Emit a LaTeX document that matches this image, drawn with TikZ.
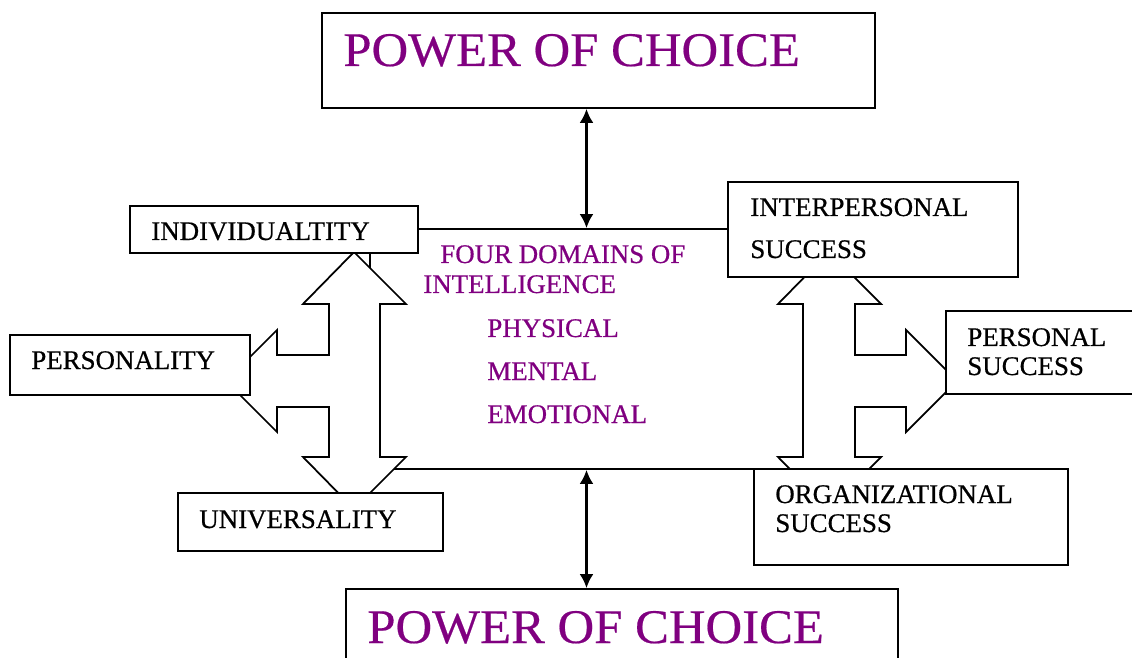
\documentclass[tikz,border=0pt]{standalone}
\usepackage{fontspec}
\setmainfont{Liberation Serif}
\newfontfamily\heavyfont{Liberation Serif}[FakeBold=0.6]
\newfontfamily\titlefont{Liberation Serif}[FakeStretch=1.05,FakeBold=0.4]
\usetikzlibrary{fit,arrows.meta}
\definecolor{choice}{RGB}{128,0,128}
\tikzset{
  box/.style={draw,line width=1pt,fill=white,inner sep=0pt},
  blockarrow/.style={draw,line width=1pt,fill=white,line join=miter},
  lbl/.style={anchor=base west,inner sep=0pt,font=\heavyfont\fontsize{15.3}{18}\selectfont},
  dom/.style={lbl,text=choice},
  big/.style={anchor=base west,inner sep=0pt,text=choice,font=\titlefont\fontsize{27.5}{30}\selectfont},
  link/.style={line width=1.4pt,{Latex[length=8pt,width=8pt]}-{Latex[length=8pt,width=8pt]}}
}
\begin{document}
\begin{tikzpicture}[x=0.02cm,y=-0.02cm]
  \useasboundingbox (0,0) rectangle (1132,658);
  \node[box,fill=none,fit={(370,229) (803,469)}] (domains) {};
  \draw[blockarrow]
    (354,252) -- (406,304) -- (380,304) -- (380,457) -- (406,457) -- (354,509)
    -- (303,457) -- (329,457) -- (329,407) -- (277,407) -- (277,432) -- (226,381)
    -- (277,330) -- (277,355) -- (329,355) -- (329,304) -- (303,304) -- cycle;
  \draw[blockarrow]
    (829,252) -- (881,304) -- (855,304) -- (855,355) -- (906,355) -- (906,330)
    -- (957,381) -- (906,432) -- (906,407) -- (855,407) -- (855,457) -- (881,457)
    -- (829,509) -- (778,457) -- (803,457) -- (803,304) -- (778,304) -- cycle;
  \node[box,fit={(322,13) (875,108)}] (choicetop) {};
  \node[box,fit={(346,589) (898,700)}] (choicebot) {};
  \node[box,fit={(130,206) (418,253)}] (individ) {};
  \node[box,fit={(10,335) (250,395)}] (personality) {};
  \node[box,fit={(178,493) (443,551)}] (universal) {};
  \node[box,fit={(728,182) (1018,277)}] (interpers) {};
  \node[box,fit={(946,311) (1160,394)}] (personal) {};
  \node[box,fit={(754,469) (1068,565)}] (organiz) {};
  \draw[link] (domains.north) -- (domains.north |- choicetop.south);
  \draw[link] (domains.south) -- (domains.south |- choicebot.north);
  \node[big] (t1) at (343,66) {POWER OF CHOICE};
  \node[big] (t2) at (367,643) {POWER OF CHOICE};
  \node[lbl] (t3) at (151,240) {INDIVIDUALTITY};
  \node[lbl] (t4) at (31,369) {PERSONALITY};
  \node[lbl] (t5) at (199,528) {UNIVERSALITY};
  \node[lbl] (t6) at (750,216) {INTERPERSONAL};
  \node[lbl] (t7) at (750,258) {SUCCESS};
  \node[lbl] (t8) at (967,346) {PERSONAL};
  \node[lbl] (t9) at (967,375) {SUCCESS};
  \node[lbl] (t10) at (775,503) {ORGANIZATIONAL};
  \node[lbl] (t11) at (775,532) {SUCCESS};
  \node[dom] (d1) at (440,263) {FOUR DOMAINS OF};
  \node[dom] (d2) at (423,293) {INTELLIGENCE};
  \node[dom] (d3) at (487,337) {PHYSICAL};
  \node[dom] (d4) at (487,380) {MENTAL};
  \node[dom] (d5) at (487,423) {EMOTIONAL};
\end{tikzpicture}
\end{document}
